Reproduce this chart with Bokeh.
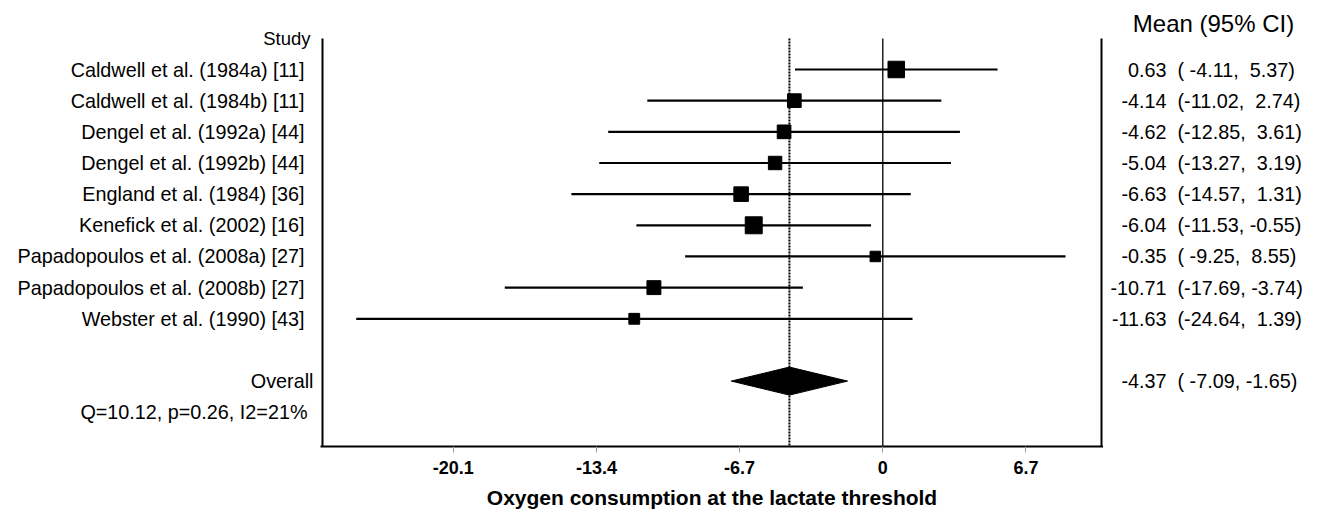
from bokeh.plotting import figure
from bokeh.models import Range1d, FixedTicker
from bokeh.layouts import row
from bokeh.core.properties import value
from bokeh.embed import file_html
from bokeh.resources import INLINE
import math

# ---------------- data ----------------
studies = [
    "Caldwell et al. (1984a) [11]",
    "Caldwell et al. (1984b) [11]",
    "Dengel et al. (1992a) [44]",
    "Dengel et al. (1992b) [44]",
    "England et al. (1984) [36]",
    "Kenefick et al. (2002) [16]",
    "Papadopoulos et al. (2008a) [27]",
    "Papadopoulos et al. (2008b) [27]",
    "Webster et al. (1990) [43]",
]
means = [0.63, -4.14, -4.62, -5.04, -6.63, -6.04, -0.35, -10.71, -11.63]
lowers = [-4.11, -11.02, -12.85, -13.27, -14.57, -11.53, -9.25, -17.69, -24.64]
uppers = [5.37, 2.74, 3.61, 3.19, 1.31, -0.55, 8.55, -3.74, 1.39]
weights = [15.6, 10.7, 10.7, 10.3, 12.1, 16.5, 6.3, 11.1, 6.7]  # relative weights (%)

overall_label = "Overall"
overall_mean = -4.37
overall_lower = -7.09
overall_upper = -1.65
heterogeneity = "Q=10.12, p=0.26, I2=21%"

tick_values = [-20.1, -13.4, -6.7, 0, 6.7]
tick_labels = ["-20.1", "-13.4", "-6.7", "0", "6.7"]
x_title = "Oxygen consumption at the lactate threshold"
left_header = "Study"
right_header = "Mean (95% CI)"

# ---------------- layout helpers ----------------
PX0, PXU = 882.3, 21.37          # page pixel of x=0, pixels per unit
ROW0, ROWH = 69.0, 31.16         # page pixel of first row, pixels per row
W, H = 1321, 512
MID_L, MID_R = 320, 1103         # middle panel frame (page px)
MID_FH = 446


def vx(px):
    return (px - PX0) / PXU


def vy(py):
    return (py - ROW0) / ROWH


FONT = value("Liberation Sans")
NB = "\u00a0"
TXT = "19.8px"

rows = list(range(len(studies)))
overall_row = len(studies) + 1
het_row = overall_row + 1
sizes = [4.18 * math.sqrt(w) for w in weights]


def ci_text(lo, hi):
    return ("(%6.2f,%6.2f)" % (lo, hi)).replace(" ", NB)


def base_fig(width, fh, x0, x1):
    f = figure(frame_width=width, frame_height=fh,
               x_range=Range1d(x0, x1), y_range=Range1d(vy(fh), vy(0)),
               output_backend="svg", toolbar_location=None,
               x_axis_type=None, y_axis_type=None,
               min_border_left=0, min_border_right=0, min_border_top=0, min_border_bottom=0)
    f.outline_line_color = None
    f.background_fill_color = "white"
    f.border_fill_color = "white"
    return f


# ---------------- left panel (study names) ----------------
left = base_fig(MID_L, H, 0, MID_L)
left.text(x=[304] * len(studies), y=rows, text=studies, text_align="right",
          text_baseline="middle", text_font=FONT, text_font_size=TXT, text_color="black")
left.text(x=[310], y=[vy(38)], text=[left_header], text_align="right",
          text_baseline="middle", text_font=FONT, text_font_size="18.5px", text_color="black")
left.text(x=[313], y=[overall_row], text=[overall_label], text_align="right",
          text_baseline="middle", text_font=FONT, text_font_size=TXT, text_color="black")
left.text(x=[307], y=[het_row], text=[heterogeneity], text_align="right",
          text_baseline="middle", text_font=FONT, text_font_size=TXT, text_color="black")

# ---------------- middle panel (forest plot) ----------------
mid = figure(frame_width=MID_R - MID_L, frame_height=MID_FH,
             x_range=Range1d(vx(MID_L), vx(MID_R)), y_range=Range1d(vy(MID_FH), vy(0)),
             output_backend="svg", toolbar_location=None, y_axis_type=None,
             min_border_left=0, min_border_right=0, min_border_top=0, min_border_bottom=0)
mid.outline_line_color = None
mid.xgrid.visible = False
mid.ygrid.visible = False
mid.background_fill_color = "white"
mid.border_fill_color = "white"

y_top = vy(38)
y_bot = vy(446)
x_left = vx(322)
x_right = vx(1101)

mid.segment(x0=[x_left, x_right], y0=[y_top, y_top], x1=[x_left, x_right], y1=[y_bot, y_bot],
            line_color="black", line_width=2)
mid.segment(x0=[0], y0=[y_top], x1=[0], y1=[y_bot], line_color="black", line_width=1.3)
mid.segment(x0=[overall_mean], y0=[y_top], x1=[overall_mean], y1=[y_bot],
            line_color="black", line_width=2, line_dash="2 1")

mid.segment(x0=lowers, y0=rows, x1=uppers, y1=rows, line_color="black", line_width=2.2)
mid.scatter(x=means, y=rows, size=sizes, marker="square", fill_color="black", line_color="black")

hh = 0.45
mid.patch(x=[overall_lower, overall_mean, overall_upper, overall_mean],
          y=[overall_row, overall_row - hh, overall_row, overall_row + hh],
          fill_color="black", line_color="black")

ax = mid.xaxis[0]
ax.ticker = FixedTicker(ticks=tick_values)
ax.major_label_overrides = {t: l for t, l in zip(tick_values, tick_labels)}
ax.axis_line_color = "black"
ax.axis_line_width = 2
ax.major_tick_line_color = "#999999"
ax.major_tick_out = 6
ax.major_tick_in = 0
ax.minor_tick_line_color = None
ax.major_label_text_font = "Liberation Sans"
ax.major_label_text_font_style = "bold"
ax.major_label_text_font_size = "18px"
ax.major_label_text_color = "black"
ax.major_label_standoff = 8
ax.axis_label = x_title
ax.axis_label_text_font = "Liberation Sans"
ax.axis_label_text_font_style = "bold"
ax.axis_label_text_font_size = "21px"
ax.axis_label_text_color = "black"
ax.axis_label_standoff = 9

# ---------------- right panel (means and CIs) ----------------
right = base_fig(W - MID_R, H, MID_R, W)
right.text(x=[1213], y=[vy(23)], text=[right_header], text_align="center",
           text_baseline="middle", text_font=FONT, text_font_size="24px", text_color="black")
all_means = means + [overall_mean]
all_rows = rows + [overall_row]
all_ci = [ci_text(lo, hi) for lo, hi in zip(lowers + [overall_lower], uppers + [overall_upper])]
right.text(x=[1166] * len(all_means), y=all_rows, text=["%.2f" % m for m in all_means],
           text_align="right", text_baseline="middle", text_font=FONT, text_font_size=TXT,
           text_color="black")
right.text(x=[1177] * len(all_ci), y=all_rows, text=all_ci,
           text_align="left", text_baseline="middle", text_font=FONT, text_font_size=TXT,
           text_color="black")

layout = row(left, mid, right)
open("out.html", "w").write(file_html(layout, INLINE))
